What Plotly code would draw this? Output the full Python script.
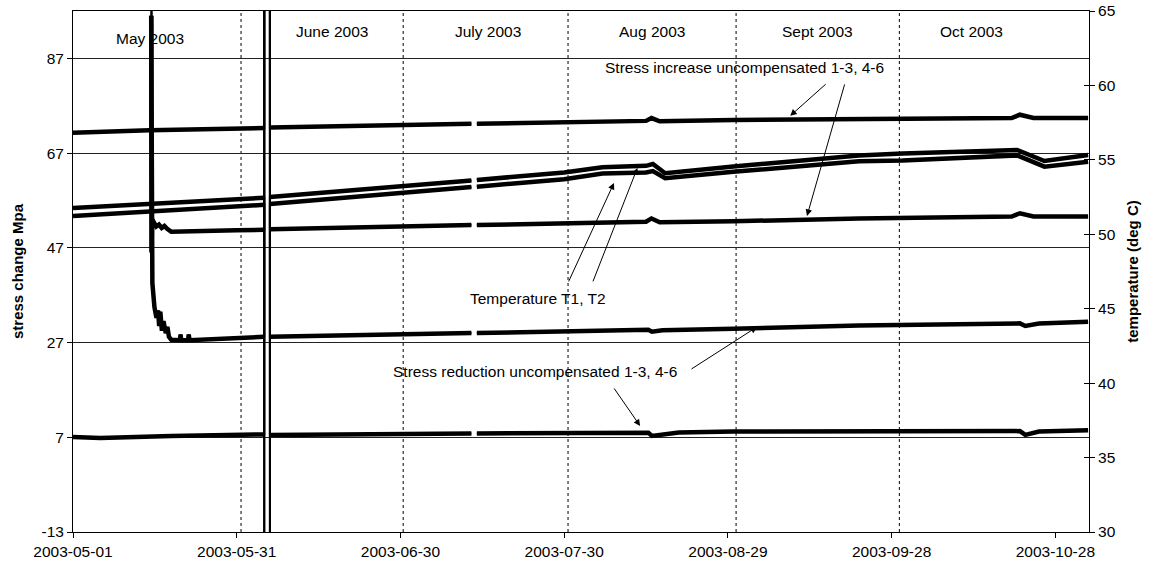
"""
Stress change and temperature record, May - Oct 2003.
Left axis: stress change (MPa), right axis: temperature (deg C).
"""

import numpy as np
import plotly.graph_objects as go

STRESS_RANGE = [-13, 97]
TEMP_RANGE = [30, 65]
X_RANGE = ["2003-05-01", "2003-11-03 04:00"]

stress_ticks = [-13, 7, 27, 47, 67, 87]
stress_tick_text = ["-13", "7", "27", "47", "67", "87"]

# ---------------------------------------------------------------------------
# data (off-scale values are the sensor spikes)
# ---------------------------------------------------------------------------

# Stress increase uncompensated - upper curve
inc_a_dates = [
    "2003-05-01", "2003-05-15", "2003-06-05 01:00", "2003-06-05 01:00",
    "2003-06-06 02:00", "2003-06-06 02:00", "2003-06-26", "2003-07-13",
    "2003-07-13 12:00", "2003-07-14", "2003-07-30", "2003-08-14",
    "2003-08-15", "2003-08-16 12:00", "2003-08-30", "2003-09-22",
    "2003-10-20", "2003-10-21 12:00", "2003-10-24", "2003-11-03",
]
inc_a = [
    71.3, 71.8, 72.3, 400, 400, 72.4, 72.8, 73.2, None, 73.2, 73.6, 73.8,
    74.4, 73.7, 74.0, 74.2, 74.4, 75.1, 74.4, 74.4,
]

# Stress increase uncompensated - lower curve (starts at the May spike)
inc_b_dates = [
    "2003-05-15 07:00", "2003-05-15 08:00", "2003-05-15 09:00",
    "2003-05-15 12:00", "2003-05-16 06:00", "2003-05-16 18:00",
    "2003-05-17 06:00", "2003-05-17 18:00", "2003-05-18 06:00",
    "2003-05-19", "2003-05-31", "2003-06-05 01:00", "2003-06-05 01:00",
    "2003-06-06 02:00", "2003-06-06 02:00", "2003-06-26", "2003-07-13",
    "2003-07-13 12:00", "2003-07-14", "2003-07-30", "2003-08-14",
    "2003-08-15", "2003-08-16 12:00", "2003-08-30", "2003-09-22",
    "2003-10-20", "2003-10-21 12:00", "2003-10-24", "2003-11-03",
]
inc_b = [
    400, 96, 46, 53.0, 51.5, 51.9, 51.2, 51.6, 51.0, 50.4, 50.7, 50.8,
    400, 400, 50.9, 51.4, 51.8, None, 51.8, 52.1, 52.5, 53.2, 52.4, 52.6,
    53.2, 53.6, 54.3, 53.6, 53.6,
]

# Temperature T1, T2
temp_dates = [
    "2003-05-01", "2003-05-15", "2003-06-05 01:00", "2003-06-05 01:00",
    "2003-06-06 02:00", "2003-06-06 02:00", "2003-06-26", "2003-07-13",
    "2003-07-13 12:00", "2003-07-14", "2003-07-30", "2003-08-06",
    "2003-08-14", "2003-08-15 06:00", "2003-08-17 12:00", "2003-08-30",
    "2003-09-22", "2003-09-30", "2003-10-21", "2003-10-26", "2003-11-03",
]
temp_t1 = [
    51.77, 52.05, 52.45, -50, -50, 52.5, 53.1, 53.62, None, 53.65, 54.15,
    54.5, 54.6, 54.72, 54.1, 54.55, 55.3, 55.42, 55.66, 54.92, 55.33,
]
temp_t2 = [
    51.23, 51.5, 51.98, -50, -50, 52.03, 52.64, 53.18, None, 53.2, 53.7,
    54.08, 54.15, 54.25, 53.77, 54.2, 54.9, 54.95, 55.3, 54.54, 54.88,
]

# Stress reduction uncompensated - upper curve (decays from the May spike)
red_a_dates = [
    "2003-05-15 07:00", "2003-05-15 08:00", "2003-05-15 10:00",
    "2003-05-15 13:00", "2003-05-15 22:00", "2003-05-16 07:00",
    "2003-05-16 14:00", "2003-05-16 19:00", "2003-05-17 00:00",
    "2003-05-17 07:00", "2003-05-17 14:00", "2003-05-18 00:00",
    "2003-05-18 07:00", "2003-05-18 14:00", "2003-05-19 00:00",
    "2003-05-20 14:00", "2003-05-20 17:00", "2003-05-20 20:00",
    "2003-05-22 02:00", "2003-05-22 05:00", "2003-05-22 08:00",
    "2003-06-05 01:00", "2003-06-05 01:00", "2003-06-06 02:00",
    "2003-06-06 02:00", "2003-06-26", "2003-07-13", "2003-07-13 12:00",
    "2003-07-14", "2003-07-30", "2003-08-14 10:00", "2003-08-15 02:00",
    "2003-08-17", "2003-08-30", "2003-09-22", "2003-10-21 12:00",
    "2003-10-22 12:00", "2003-10-25", "2003-11-03",
]
red_a = [
    400, 96, 45, 39.6, 34.5, 32.2, 33.8, 30.5, 33.5, 29.5, 31.5, 29.0,
    30.3, 28.2, 27.6, 27.5, 28.7, 27.5, 27.5, 28.7, 27.5, 28.2, 400, 400,
    28.2, 28.6, 29.0, None, 29.0, 29.4, 29.7, 29.3, 29.6, 29.9, 30.6,
    31.05, 30.5, 31.0, 31.4,
]

# Stress reduction uncompensated - lower curve
red_b_dates = [
    "2003-05-01", "2003-05-06", "2003-05-19", "2003-06-05 01:00",
    "2003-06-05 01:00", "2003-06-06 02:00", "2003-06-06 02:00",
    "2003-06-26", "2003-07-13", "2003-07-13 12:00", "2003-07-14",
    "2003-08-14 10:00", "2003-08-15 02:00", "2003-08-20", "2003-08-30",
    "2003-09-22", "2003-10-21 12:00", "2003-10-22 12:00", "2003-10-25",
    "2003-11-03",
]
red_b = [
    7.06, 6.85, 7.27, 7.6, 400, 400, 7.5, 7.7, 7.8, None, 7.8, 7.97, 7.27,
    8.0, 8.2, 8.2, 8.3, 7.5, 8.2, 8.5,
]

# dotted month separators and the month captions along the top
month_lines = [
    "2003-05-31 19:00", "2003-06-30 12:00", "2003-07-30 17:00",
    "2003-08-30 12:00", "2003-09-29 10:00",
]
month_names = ["May 2003", "June 2003", "July 2003", "Aug 2003",
               "Sept 2003", "Oct 2003"]
month_label_x = ["2003-05-15 02:00", "2003-06-17 12:00", "2003-07-16",
                 "2003-08-15 02:00", "2003-09-14 12:00", "2003-10-12 17:00"]
month_label_y = [91.1, 92.6, 92.6, 92.6, 92.6, 92.6]


def _in_range(values, lo, hi):
    """Blank out off-scale points so the thick curve breaks at the spikes."""
    arr = np.array([np.nan if v is None else v for v in values], dtype=float)
    arr[(arr < lo) | (arr > hi)] = np.nan
    return [None if np.isnan(v) else float(v) for v in arr]


fig = go.Figure()

series = [
    (inc_a_dates, inc_a, "y", STRESS_RANGE),
    (inc_b_dates, inc_b, "y", STRESS_RANGE),
    (temp_dates, temp_t1, "y2", TEMP_RANGE),
    (temp_dates, temp_t2, "y2", TEMP_RANGE),
    (red_a_dates, red_a, "y", STRESS_RANGE),
    (red_b_dates, red_b, "y", STRESS_RANGE),
]

for dates, vals, yax, rng in series:
    # thin line carries the off-scale spikes
    fig.add_trace(go.Scatter(
        x=dates, y=vals, yaxis=yax, mode="lines",
        line=dict(color="black", width=2),
        connectgaps=False, hoverinfo="skip",
    ))
    # thick line for the readings themselves
    fig.add_trace(go.Scatter(
        x=dates, y=_in_range(vals, *rng), yaxis=yax, mode="lines",
        line=dict(color="black", width=4.5),
        connectgaps=False,
    ))

# empty trace so the inner tick marks of the right axis get drawn
fig.add_trace(go.Scatter(x=[], y=[], yaxis="y3"))

for d in month_lines:
    fig.add_vline(x=d, line=dict(color="black", width=1, dash="dot"),
                  layer="below")

for name, x, y in zip(month_names, month_label_x, month_label_y):
    fig.add_annotation(x=x, y=y, text=name, showarrow=False,
                       xanchor="center", yanchor="middle")

# labels
fig.add_annotation(x="2003-09-01 03:00", y=85.0, showarrow=False,
                   text="Stress increase uncompensated 1-3, 4-6")
fig.add_annotation(x="2003-07-25 05:00", y=36.4, showarrow=False,
                   text="Temperature T1, T2")
fig.add_annotation(x="2003-07-24 17:00", y=20.8, showarrow=False,
                   text="Stress reduction uncompensated 1-3, 4-6")

# arrows: tip in data coords, tail offset in px
arrows = [
    ("2003-09-09 10:00", 74.86, 37, -33),
    ("2003-09-12 12:00", 53.74, 38, -133),
    ("2003-08-08 03:00", 60.7, -46, 100),
    ("2003-08-12 10:00", 63.87, -45, 115),
    ("2003-08-12 22:00", 9.39, -27, -39),
    ("2003-09-03 08:00", 30.3, -67, 43),
]
for x, y, ax, ay in arrows:
    fig.add_annotation(x=x, y=y, ax=ax, ay=ay, text="", showarrow=True,
                       arrowhead=2, arrowsize=1.3, arrowwidth=1,
                       arrowcolor="black")

axis_font = dict(family="Liberation Sans, Arial, sans-serif", size=15.5,
                 color="black")

fig.update_layout(
    width=1151, height=569,
    margin=dict(l=73, r=62, t=11, b=37, autoexpand=False),
    paper_bgcolor="white", plot_bgcolor="white",
    showlegend=False,
    font=axis_font,
    xaxis=dict(
        type="date", range=X_RANGE, automargin=False,
        tick0="2003-05-01", dtick=30 * 24 * 3600 * 1000,
        tickformat="%Y-%m-%d", ticklabeloverflow="allow",
        ticks="outside", ticklen=5, tickcolor="black",
        showline=True, linecolor="black", linewidth=1, mirror=True,
        showgrid=False, zeroline=False,
    ),
    yaxis=dict(
        range=STRESS_RANGE, automargin=False,
        tickmode="array", tickvals=stress_ticks, ticktext=stress_tick_text,
        ticklabeloverflow="allow",
        ticks="outside", ticklen=5, tickcolor="black",
        showline=True, linecolor="black", linewidth=1,
        showgrid=True, gridcolor="#222", gridwidth=1, zeroline=False,
        title=dict(text="<b>stress change Mpa</b>", standoff=14,
                   font=dict(size=15)),
    ),
    yaxis2=dict(
        overlaying="y", side="right", automargin=False,
        range=TEMP_RANGE, tick0=30, dtick=5, ticklabeloverflow="allow",
        ticks="outside", ticklen=5, tickcolor="black",
        showline=True, linecolor="black", linewidth=1,
        showgrid=False, zeroline=False,
        title=dict(text="<b>temperature (deg C)</b>", standoff=12,
                   font=dict(size=15)),
    ),
    yaxis3=dict(
        overlaying="y", side="right", automargin=False,
        range=TEMP_RANGE, tick0=30, dtick=5,
        ticks="inside", ticklen=5, tickcolor="black",
        showticklabels=False, showline=False,
        showgrid=False, zeroline=False,
    ),
)

# drop the browser's default 8px page margin so the figure sits at (0, 0)
fig.write_html(
    "out.html",
    config={"displayModeBar": False},
    post_script="document.body.style.margin = '0';",
)
